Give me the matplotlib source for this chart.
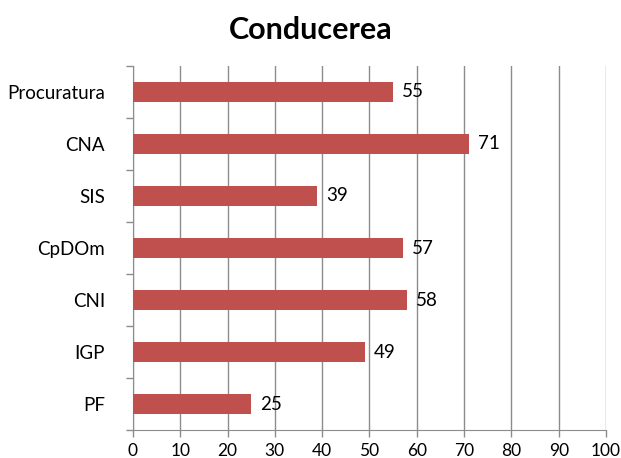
import numpy as np
import matplotlib.pyplot as plt

plt.rcParams['font.family'] = ['Lato', 'DejaVu Sans']

# categories (top to bottom) and values
categories = ['Procuratura', 'CNA', 'SIS', 'CpDOm', 'CNI', 'IGP', 'PF']
values = [55, 71, 39, 57, 58, 49, 25]
xticks = [0, 10, 20, 30, 40, 50, 60, 70, 80, 90, 100]

fig = plt.figure(figsize=(6.21, 4.58), dpi=100)
ax = fig.add_axes([0.214, 0.061, 0.762, 0.795])

y = np.arange(len(categories))[::-1]
ax.barh(y, values, height=0.4, color='#C0504D', zorder=3)

for yi, v in zip(y, values):
    ax.text(v + 1.9, yi, str(v), va='center', ha='left', fontsize=13.5)

ax.set_xlim(0, 100)
ax.set_ylim(-0.5, len(categories) - 0.5)
ax.set_xticks(xticks)
ax.set_xticklabels([str(t) for t in xticks], fontsize=12.5)
ax.set_yticks(y)
ax.set_yticklabels(categories, fontsize=13.5)
ax.tick_params(axis='y', length=0, pad=20)
# boundary ticks for categories
ax.set_yticks(np.arange(len(categories) + 1) - 0.5, minor=True)
ax.tick_params(axis='y', which='minor', length=5, color='#8c8c8c', width=1)
ax.tick_params(axis='x', length=5, color='#8c8c8c', width=1, pad=4)

ax.grid(axis='x', color='#8c8c8c', linewidth=1, zorder=0)
for s in ['top', 'right']:
    ax.spines[s].set_visible(False)
ax.spines['left'].set_color('#8c8c8c')
ax.spines['bottom'].set_color('#8c8c8c')

fig.suptitle('Conducerea', fontsize=22, fontweight='bold', y=0.965)

fig.savefig('out.png')
